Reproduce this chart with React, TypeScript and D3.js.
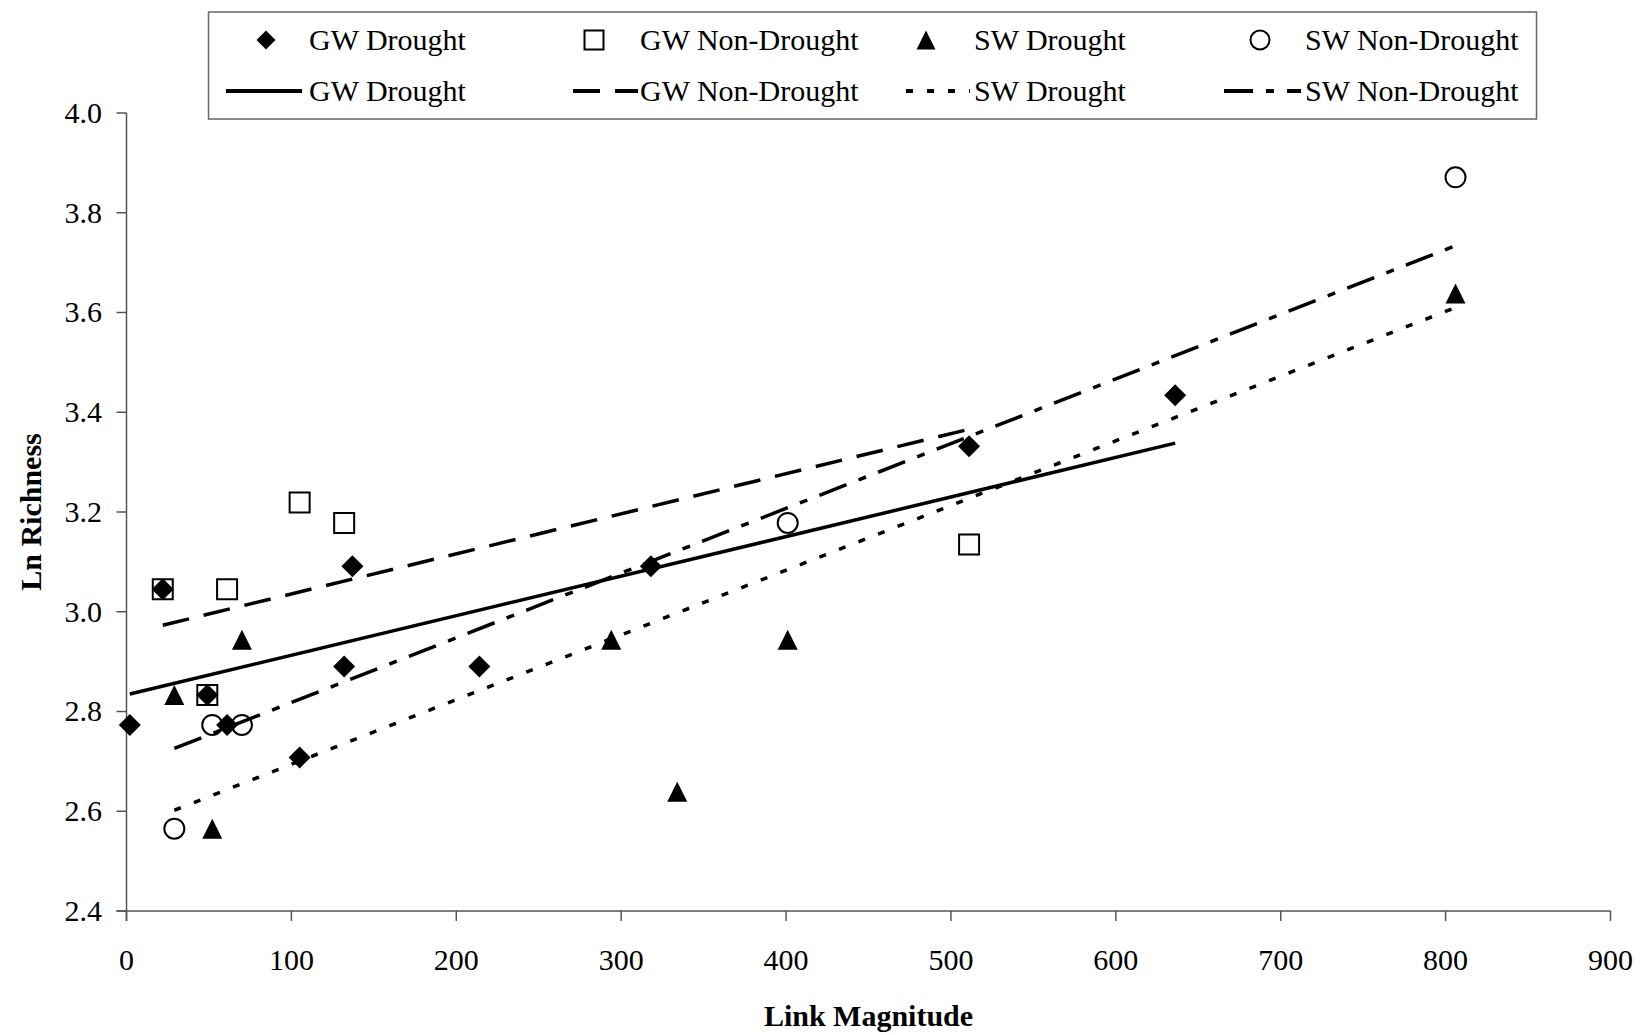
import * as React from 'react';
import * as d3 from 'd3';

// Data (y = ln richness)
const gwDroughtX = [2, 22, 49, 61, 105, 132, 137, 214, 318, 511, 636];
const gwDroughtY = [2.773, 3.045, 2.833, 2.773, 2.708, 2.890, 3.091, 2.890, 3.091, 3.332, 3.434];

const gwNonDroughtX = [22, 49, 61, 105, 132, 511];
const gwNonDroughtY = [3.045, 2.833, 3.045, 3.219, 3.178, 3.135];

const swDroughtX = [29, 52, 70, 294, 334, 401, 806];
const swDroughtY = [2.833, 2.565, 2.944, 2.944, 2.639, 2.944, 3.638];

const swNonDroughtX = [29, 52, 70, 401, 806];
const swNonDroughtY = [2.565, 2.773, 2.773, 3.178, 3.871];

// Trend line end points [x, y]
const gwDroughtTrend: [number, number][] = [[2, 2.835], [636, 3.338]];
const gwNonDroughtTrend: [number, number][] = [[22, 2.973], [511, 3.366]];
const swDroughtTrend: [number, number][] = [[29, 2.602], [806, 3.61]];
const swNonDroughtTrend: [number, number][] = [[29, 2.726], [806, 3.734]];

const xTicks = [0, 100, 200, 300, 400, 500, 600, 700, 800, 900];
const yTicks = [2.4, 2.6, 2.8, 3.0, 3.2, 3.4, 3.6, 3.8, 4.0];

const seriesNames = ['GW Drought', 'GW Non-Drought', 'SW Drought', 'SW Non-Drought'];

const font = '"Liberation Serif", "Times New Roman", serif';

type Marker = 'diamond' | 'square' | 'triangle' | 'circle';

// marker outline centred on (0,0)
const markerPath = (m: Marker, s: number): string => {
    const h = s / 2;
    if (m === 'diamond') return `M0,${-h}L${h},0L0,${h}L${-h},0Z`;
    if (m === 'square') return `M${-h},${-h}H${h}V${h}H${-h}Z`;
    if (m === 'triangle') return `M0,${-h}L${h},${h}L${-h},${h}Z`;
    return `M${h},0A${h},${h} 0 1,1 ${-h},0A${h},${h} 0 1,1 ${h},0Z`;
};

const markerStyle = (m: Marker) =>
    m === 'diamond' || m === 'triangle'
        ? { fill: '#000', stroke: 'none' }
        : { fill: 'none', stroke: '#000', strokeWidth: 2 };

const dashes = ['none', '27,15', '7,14', '29,13,8,13'];

export default function App() {
    const width = 1640, height = 1035;
    const x = d3.scaleLinear().domain([0, 900]).range([126.5, 1610.5]);
    const y = d3.scaleLinear().domain([2.4, 4.0]).range([911, 113]);

    const line = d3.line<[number, number]>()
        .x(d => x(d[0]))
        .y(d => y(d[1]));

    const series: { xs: number[], ys: number[], marker: Marker, trend: [number, number][] }[] = [
        { xs: gwDroughtX, ys: gwDroughtY, marker: 'diamond', trend: gwDroughtTrend },
        { xs: gwNonDroughtX, ys: gwNonDroughtY, marker: 'square', trend: gwNonDroughtTrend },
        { xs: swDroughtX, ys: swDroughtY, marker: 'triangle', trend: swDroughtTrend },
        { xs: swNonDroughtX, ys: swNonDroughtY, marker: 'circle', trend: swNonDroughtTrend },
    ];

    // legend layout
    const legMarkerX = [266, 594, 926, 1260];
    const legTextX = [309, 640, 974, 1305];
    const legLine = [[226, 302], [573, 638], [906, 970], [1224, 1301]];
    const row1 = 40, row2 = 91;

    const [x0, x1] = x.range();
    const [y0, y1] = y.range();

    return (
        <svg width={width} height={height} style={{ position: 'absolute', left: 0, top: 0, background: '#fff' }}
            fontFamily={font}>
            <rect x={0} y={0} width={width} height={height} fill="#fff" />

            {/* axes */}
            <g stroke="#555" strokeWidth={1.5}>
                <line x1={x0} x2={x0} y1={y1} y2={y0 + 10} />
                <line x1={x0 - 10} x2={x1} y1={y0} y2={y0} />
                {yTicks.map(t => <line key={'yt' + t} x1={x0 - 10} x2={x0} y1={y(t)} y2={y(t)} />)}
                {xTicks.map(t => <line key={'xt' + t} x1={x(t)} x2={x(t)} y1={y0} y2={y0 + 10} />)}
            </g>
            <g fontSize={30} fill="#000">
                {yTicks.map(t => (
                    <text key={'yl' + t} x={102} y={y(t)} dy="0.33em" textAnchor="end">{t.toFixed(1)}</text>
                ))}
                {xTicks.map(t => (
                    <text key={'xl' + t} x={x(t)} y={969.5} textAnchor="middle">{t}</text>
                ))}
            </g>
            <text x={(x0 + x1) / 2} y={1026} textAnchor="middle" fontSize={30} fontWeight="bold">Link Magnitude</text>
            <text transform={`translate(41,${(y0 + y1) / 2}) rotate(-90)`} textAnchor="middle" fontSize={30}
                fontWeight="bold">Ln Richness</text>

            {/* trend lines */}
            {series.map((s, i) => (
                <path key={'tr' + i} d={line(s.trend) ?? ''} fill="none" stroke="#000" strokeWidth={3.5}
                    strokeDasharray={dashes[i]} />
            ))}

            {/* points */}
            {series.map((s, i) => (
                <g key={'pts' + i} {...markerStyle(s.marker)}>
                    {s.xs.map((v, j) => (
                        <path key={j} transform={`translate(${x(v)},${y(s.ys[j])})`}
                            d={markerPath(s.marker, s.marker === 'diamond' ? 22 : 20)} />
                    ))}
                </g>
            ))}

            {/* legend */}
            <rect x={208.5} y={12} width={1328} height={107} fill="#fff" stroke="#666" strokeWidth={1.5} />
            {series.map((s, i) => (
                <g key={'leg' + i}>
                    <path transform={`translate(${legMarkerX[i]},${row1})`} d={markerPath(s.marker, 19)}
                        {...markerStyle(s.marker)} />
                    <text x={legTextX[i]} y={row1} dy="0.33em" fontSize={30}>{seriesNames[i]}</text>
                    <line x1={legLine[i][0]} x2={legLine[i][1]} y1={row2} y2={row2} stroke="#000" strokeWidth={4}
                        strokeDasharray={dashes[i]} />
                    <text x={legTextX[i]} y={row2} dy="0.33em" fontSize={30}>{seriesNames[i]}</text>
                </g>
            ))}
        </svg>
    );
}
